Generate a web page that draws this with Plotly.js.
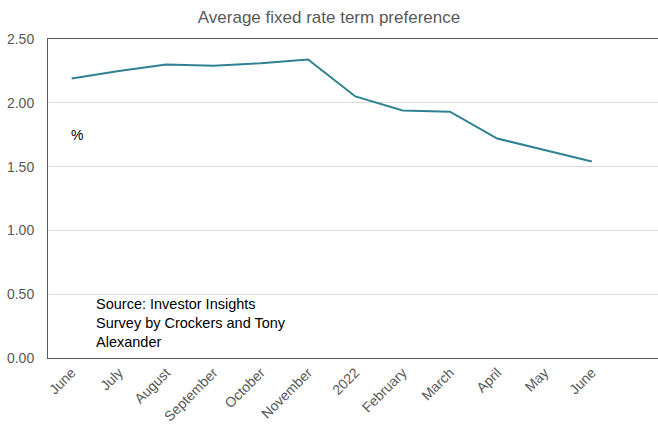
<!DOCTYPE html>
<html>
<head>
<meta charset="utf-8">
<script src="https://cdn.plot.ly/plotly-3.0.1.min.js"></script>
<style>html,body{margin:0;padding:0;background:#fff;}#chart{width:658px;height:429px;}</style>
</head>
<body>
<div id="chart"></div>
<script>
const categories = ["June", "July", "August", "September", "October", "November", "2022", "February", "March", "April", "May", "June"];
const preference = [2.19, 2.25, 2.30, 2.29, 2.31, 2.34, 2.05, 1.94, 1.93, 1.72, 1.63, 1.54];
const yTicks = [0, 0.5, 1, 1.5, 2, 2.5];
const yTickLabels = ["0.00", "0.50", "1.00", "1.50", "2.00", "2.50"];

const idx = categories.map((_, i) => i);

const trace = {
  x: idx,
  y: preference,
  type: "scatter",
  mode: "lines",
  line: {color: "#2e8190", width: 2},
  hoverinfo: "skip"
};

const layout = {
  width: 658,
  height: 429,
  margin: {l: 48, r: 0, t: 39, b: 71},
  paper_bgcolor: "#fff",
  plot_bgcolor: "#fff",
  font: {family: "Liberation Sans, Arial, sans-serif", size: 14, color: "#595959"},
  title: {text: "Average fixed rate term preference", x: 0.5, xanchor: "center", y: 0.96, yanchor: "middle",
          font: {size: 17, color: "#595959"}},
  showlegend: false,
  xaxis: {
    range: [-0.5, 12.4],
    tickmode: "array",
    tickvals: idx,
    ticktext: categories,
    tickangle: -45,
    showgrid: false,
    zeroline: false,
    showline: true,
    mirror: true,
    linecolor: "#595959",
    linewidth: 1,
    ticks: "",
    tickfont: {size: 14, color: "#595959"}
  },
  yaxis: {
    range: [0, 2.5],
    tickmode: "array",
    tickvals: yTicks,
    ticktext: yTickLabels,
    showgrid: true,
    gridcolor: "#d9d9d9",
    zeroline: false,
    showline: true,
    linecolor: "#595959",
    linewidth: 1,
    ticks: "",
    ticklabelstandoff: 10,
    tickfont: {size: 14, color: "#595959"}
  },
  annotations: [
    {text: "%", xref: "paper", yref: "paper", x: 0.035, y: 0.70, xanchor: "left", yanchor: "middle",
     showarrow: false, font: {size: 14, color: "#000"}},
    {text: "Source: Investor Insights<br>Survey by Crockers and Tony<br>Alexander", xref: "paper", yref: "paper",
     x: 0.076, y: 0.20, xanchor: "left", yanchor: "top", align: "left",
     showarrow: false, font: {size: 14.5, color: "#000"}}
  ]
};

Plotly.newPlot("chart", [trace], layout, {displayModeBar: false, staticPlot: true});
</script>
</body>
</html>
